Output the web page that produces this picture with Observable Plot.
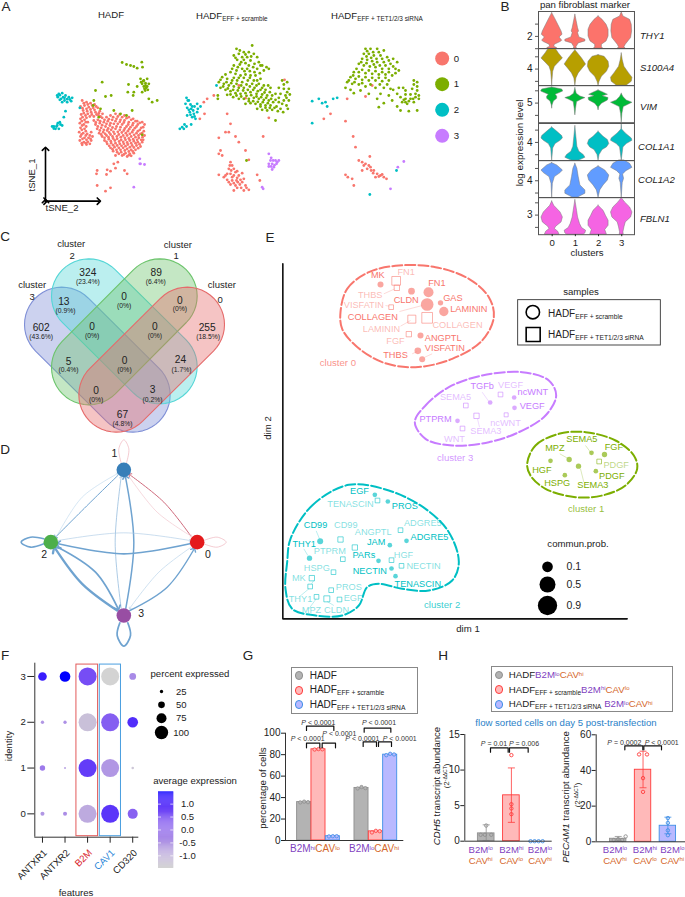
<!DOCTYPE html>
<html><head><meta charset="utf-8">
<script src="https://cdn.jsdelivr.net/npm/d3@7"></script>
<script src="https://cdn.jsdelivr.net/npm/@observablehq/plot@0.6"></script>
<style>html,body{margin:0;padding:0;background:#fff}#root{position:relative;width:685px;height:897px;overflow:hidden;font-family:"Liberation Sans",Arial,sans-serif;color:#222}#root>svg{position:absolute;overflow:visible}.t{position:absolute;white-space:nowrap;line-height:1}.s{font-size:.67em;position:relative;top:.3em}.u{font-size:.62em;position:relative;top:-.4em}</style>
</head><body><div id="root"></div>
<script>
// ---------- Panel A: tSNE
const hadf0=[245,300,258,305,270,308,282,312,240,318,252,315,265,320,278,322,292,322,248,330,260,332,272,335,285,335,298,332,242,342,255,345,268,348,280,348,294,345,306,340,240,355,252,358,238,368,250,372,262,365,240,382,252,385,236,395,248,398,260,400,272,395,240,408,252,412,264,412,276,408,238,420,250,425,262,424,272,420,245,433,258,432,280,360,292,358,305,352,318,350,330,345,345,340,358,342,372,345,385,350,398,355,410,362,425,365,432,372,285,372,298,368,310,365,322,362,335,358,348,355,360,358,372,360,385,365,398,368,412,372,428,380,290,385,302,382,315,378,328,375,340,370,352,370,365,372,378,378,390,380,403,383,418,388,430,392,296,398,308,395,320,390,332,388,345,385,358,388,370,390,382,392,395,395,408,398,420,400,432,405,305,408,318,405,330,402,342,400,355,402,368,405,380,405,392,408,405,410,415,412,428,418,312,420,325,416,338,414,350,415,362,418,375,418,388,420,400,422,412,425,425,425,320,430,332,428,345,428,358,430,370,430,382,432,395,435,408,435,420,438,330,442,342,440,355,442,368,442,380,445,392,448,405,448,338,452,350,455,362,455,375,458,388,460,400,458,345,465,365,465,380,468,392,466,340,490,352,485,320,508,345,503,290,510,288,520,330,512,318,522,372,510,380,520,290,555,330,562,315,572,250,308,262,312,275,315,287,318,246,323,258,325,270,327,282,328,295,338,250,338,262,340,274,342,288,342,300,348,246,350,258,352,244,362,256,365,245,375,257,378,244,388,256,392,243,402,256,405,268,405,246,415,258,418,270,415,244,428,256,428,268,430,286,366,299,362,312,358,325,356,338,350,352,348,365,350,378,353,392,358,405,362,418,367,292,378,305,374,318,370,330,368,345,362,358,364,370,366,383,372,396,374,408,378,422,382,298,390,310,388,323,384,336,381,348,378,360,380,373,384,386,386,398,389,412,392,425,398,302,402,314,400,326,396,339,394,352,394,364,396,376,398,388,400,401,403,414,405,426,410,312,412,324,410,336,408,349,408,361,410,373,412,385,414,398,416,410,418,422,418,318,424,331,422,343,420,356,423,368,424,380,426,392,428,405,428,417,431,326,436,338,434,350,435,363,436,375,437,388,440,400,441,413,443,336,446,348,448,360,448,373,450,385,453,397,453,355,460,370,462,385,464];
const hadf1=[365,186,378,192,390,195,400,198,410,203,424,185,426,200,420,235,430,240,440,235,425,250,435,255,445,250,432,265,442,268,425,275,437,262,384,252,382,275,400,275,410,258,398,285,445,295,470,300,455,305,305,245,285,270,315,288,332,285,280,300,278,315,300,325,295,350,340,330,360,340,378,345,395,330,425,403,428,242,435,248,422,245,440,258,430,258,434,270];
const hadf2=[175,280,185,278,195,285,205,290,215,292,172,290,182,295,192,300,200,305,212,302,185,305,170,285,195,332,190,350,178,365,185,375,170,375,160,378,165,385,155,378,175,385,238,322,178,284,188,290,200,296,208,297,178,298,192,292,168,378,160,384,172,368,180,372];
const hadf3=[418,475,418,490,432,492,400,560,420,490];
const scr1=[708,145,755,135,745,155,730,155,715,160,700,165,760,160,770,170,725,170,740,170,710,178,722,185,735,188,750,180,775,185,785,195,805,205,700,195,712,200,725,205,740,205,758,200,770,205,790,210,690,215,705,220,720,225,735,222,750,225,765,225,780,235,665,230,680,235,695,240,710,240,725,245,742,240,760,240,775,250,790,255,845,240,860,245,655,245,670,250,685,255,700,258,715,262,730,262,748,258,762,262,780,268,795,268,810,262,835,262,850,265,865,265,660,262,675,268,690,272,705,278,720,280,735,278,750,275,768,280,785,282,800,285,815,285,840,280,855,285,868,282,680,283,698,290,715,295,730,295,745,295,760,292,775,295,790,298,805,300,825,298,850,300,865,300,735,310,750,308,765,310,780,312,795,315,810,315,828,318,845,310,858,315,770,325,785,328,800,330,815,328,832,332,848,335,862,325,825,360,652,285,652,295,738,480,718,150,735,162,752,168,705,172,718,192,730,178,745,195,762,190,780,195,798,200,695,205,708,210,732,212,748,212,762,215,778,218,675,222,700,232,715,232,730,232,748,232,770,240,660,238,678,245,692,248,708,250,722,255,738,252,755,250,768,255,785,262,803,255,850,252,668,258,682,264,698,268,712,270,728,270,742,268,758,268,772,272,792,276,808,275,825,280,860,275,690,282,708,285,722,288,738,286,752,284,768,288,782,290,797,292,812,295,835,292,858,292,745,302,758,302,772,304,787,305,802,308,818,305,835,305,780,318,795,322,808,322,822,322,840,325];
const scr2=[558,292,565,300,555,310,570,312,560,322,572,325,582,318,590,310,600,318,568,335,580,340,590,335,575,350,585,355,560,345,552,372,545,380,538,385,550,385,558,378,572,372,648,255,562,300,575,318,565,328,578,330,570,343,582,348,592,325];
const scr0=[640,285,620,295,610,305,612,340,598,355,680,340,690,370,675,395,685,395,655,412,705,408,715,425,788,408,660,450,655,460,665,465,735,450,745,478,805,352,852,238,735,293,715,255,690,485,695,495,685,505,700,505,710,512,655,523,670,530,680,520,690,520,700,525,715,525,725,518,680,538,695,540,708,540,720,538,730,535,690,552,705,555,718,552,735,555,745,568,730,570,700,570,770,523,778,540,688,495,692,510,705,515,675,525,695,530,710,532,685,545,700,548,712,545,725,545,710,562,722,562,738,562];
const scr3=[805,460,812,472,825,480,835,480,805,490,815,490,828,490,805,498,820,500,815,507,785,560,788,565,810,480,818,480,830,485,812,498,822,494];
const sir1=[1095,145,1110,145,1130,145,1150,150,1090,160,1105,160,1120,165,1140,165,1160,170,1178,175,1085,175,1100,178,1115,182,1130,185,1150,185,1170,190,1190,185,1075,190,1090,195,1108,198,1125,200,1145,205,1165,205,1185,205,1060,215,1075,215,1095,218,1115,220,1135,222,1155,222,1175,225,1195,210,1050,230,1065,235,1085,238,1105,240,1125,240,1145,242,1165,240,1040,245,1055,250,1075,252,1095,258,1125,262,1150,262,1170,265,1195,262,1240,240,1250,245,1035,262,1050,268,1060,278,1080,270,1105,280,1140,280,1165,285,1190,280,1215,270,1235,265,1250,270,1130,295,1175,300,1200,290,1215,295,1230,295,1245,290,1255,285,1205,305,1220,310,1240,305,1150,308,1190,318,1135,320,1225,332,1250,330,1200,330,1100,152,1118,155,1135,155,1098,168,1112,172,1128,175,1145,175,1165,180,1082,185,1098,188,1120,192,1138,195,1155,195,1178,198,1068,205,1085,208,1105,210,1125,212,1145,215,1165,215,1185,218,1058,225,1075,228,1095,230,1115,232,1135,232,1155,232,1045,240,1062,245,1085,248,1110,252,1138,252,1160,252,1240,252,1250,258,1215,282,1230,282,1245,280,1255,295,1210,298,1225,302,1238,295,1215,305,1178,268,1208,262];
const sir2=[935,302,955,295,965,308,975,305,980,318,998,295,1010,292,935,368,1108,582,1188,510];
const sir0=[1040,295,1095,288,1115,255,990,340,970,355,1035,362,1058,408,1065,440,1075,480,1085,485,1095,490,1105,495,1100,505,1112,510,1120,510,1130,520,1125,530,1140,525,1150,530,1158,535,1108,468,1085,510,1035,523,1042,530,1055,535,1060,555,1090,495,1110,500,1118,518,1135,528,1145,522];
const sir3=[1210,483,1192,500,1170,565];
const clusterColors=["#F8766D","#7CAE00","#00BFC4","#C77CFF"];

// ---------- Panel B: violins, [row position, half width] pairs
const genes=["THY1","S100A4","VIM","COL1A1","COL1A2","FBLN1"];
const geneTick=["2","4","5","4","4","3"];
const geneTickAt=[75,62,53,57,61,53];
const geneFill=["#FC736B","#B79F00","#00BA38","#00BFC4","#619CFF","#F564E3"];
const vThy1=[[5,0,20,8,40,18,60,28,70,31,78,22,88,30,92,25,100,8,106,6,110,14,112,16],[10,0,30,4,50,8,60,11,65,8,78,12,85,30,90,30,96,10,108,3,112,5],[15,0,25,12,40,24,55,30,75,30,90,24,100,10,108,10,112,14],[2,0,15,5,25,25,40,30,60,31,80,28,100,12,108,8,112,12]];
const vS100=[[3,12,15,20,30,32,42,20,55,8,70,3,95,1,112,0],[5,0,15,8,30,20,48,32,60,22,75,10,90,3,112,0],[20,0,25,18,40,30,55,32,70,25,85,10,100,3,112,0],[15,0,35,3,55,8,75,22,88,32,100,30,108,20,112,15]];
const vVim=[[6,0,12,30,18,33,28,10,33,15,40,15,48,5,60,1,70,0],[8,0,25,4,33,15,38,30,42,20,50,5,70,2,90,0],[15,0,20,12,28,28,32,12,38,30,45,28,55,10,65,2,75,0],[25,0,35,5,45,15,52,32,58,20,65,6,85,2,112,0]];
const vCol1a1=[[12,0,22,12,38,30,45,32,52,25,62,10,75,3,112,0],[8,0,40,3,70,6,85,12,95,25,103,30,108,20,112,10],[25,0,40,15,50,28,62,32,72,25,80,12,95,3,112,0],[0,0,18,1,30,12,45,30,52,32,62,15,72,5,112,0]];
const vCol1a2=[[8,0,15,15,30,32,38,25,50,8,70,2,112,0],[10,0,25,6,50,10,75,15,90,30,100,30,108,15,112,8],[18,0,30,20,45,32,60,28,75,15,90,5,112,0],[0,8,10,25,22,32,32,14,42,4,55,7,68,3,112,0]];
const vFbln=[[12,0,25,6,45,25,60,32,75,28,88,12,95,8,103,18,112,22],[8,0,40,5,60,8,80,14,92,20,100,32,108,30,112,25],[25,0,40,15,55,22,70,30,85,30,98,20,112,25],[2,0,15,10,30,25,45,32,60,28,75,12,90,8,105,5,112,6]];
const violins=[vThy1,vS100,vVim,vCol1a1,vCol1a2,vFbln];

// ---------- Panel C: Venn
const vennCapsules=[[184,297,397,508,"#7F8FD6"],[265,212,478,423,"#55D6D6"],[478,212,265,426,"#6CC46C"],[560,297,347,508,"#E56B6B"]];
const vennCounts=[["324",262,143,"(23.4%)",262,170],["89",467,143,"(6.4%)",466,170],["602",122,308,"(43.6%)",122,335],["13",190,228,"(0.9%)",195,255],["0",371,213,"(0%)",371,242],["0",538,226,"(0%)",538,250],["255",620,306,"(18.5%)",623,335],["0",275,303,"(0%)",275,330],["0",463,304,"(0%)",463,330],["5",204,408,"(0.4%)",204,434],["0",372,405,"(0%)",372,434],["24",540,403,"(1.7%)",543,433],["0",287,495,"(0%)",287,522],["3",456,494,"(0.2%)",456,522],["67",366,567,"(4.8%)",366,594]];
const vennTitles=[["cluster",95,178],["3",95,215],["cluster",212,55],["2",215,90],["cluster",532,58],["1",527,90],["cluster",664,178],["0",659,223]];

// ---------- Panel D: network
const netNodes=[["1",370,733,"#377EB8",342,685],["2",151,950,"#4DAF4A",131,988],["0",590,950,"#E41A1C",622,988],["3",370,1170,"#984EA3",422,1165]];
const netEdges=[[170,930,245,815,350,745,.6,"#bcd6ec"],[352,750,265,835,165,935,1,"#6fa3d0"],[570,930,490,830,388,748,1,"#cf6a7c"],[385,752,470,860,572,932,.6,"#f0c0c8"],[362,1148,344,950,362,755,.7,"#8ab5da"],[376,1148,400,950,375,755,1.5,"#6fa3d0"],[173,945,370,922,568,945,.6,"#a8c8e4"],[568,955,370,985,173,955,1.6,"#6fa3d0"],[172,965,285,1040,352,1148,1.7,"#6fa3d0"],[350,1155,245,1075,165,970,2.3,"#6fa3d0"],[572,965,475,1040,388,1148,.6,"#b0cfe8"],[388,1155,500,1085,580,972,1.4,"#6fa3d0"]];
const netLoops=[[[130,940,90,935,62,950,90,965,130,955],1.6,"#6fa3d0"],[[610,945,650,935,677,950,650,965,610,955],.6,"#eda9b3"],[[362,712,355,670,370,643,385,670,378,712],.6,"#eda9b3"],[[358,1192,350,1230,370,1262,390,1230,382,1192],1.7,"#6fa3d0"]];

// ---------- Panel E
const eOutline0=[195,170,215,100,280,50,370,30,480,35,580,70,640,125,655,185,620,255,530,310,420,335,320,320,240,270,200,220];
const eOutline1=[755,625,780,570,850,535,930,530,1020,555,1075,600,1085,640,1050,690,980,720,900,725,810,700,765,660];
const eOutline2=[45,850,110,750,220,688,340,705,450,760,520,830,550,920,530,975,460,1005,380,1000,310,985,275,995,250,1050,200,1080,120,1080,50,1060,30,1000,35,920];
const eOutline3=[418,500,450,450,520,395,620,360,740,350,820,375,842,420,810,480,730,530,640,560,530,570,450,550];
const eCircles=[[315,87,9,408,107,10,459,110,15,455,147,19,495,142,8,505,168,14,435,240,9,427,286,10,440,311,9],[948,592,7,987,597,8,825,616,7,881,612,8,909,632,8,961,647,7,868,659,7],[298,718,7,337,738,7,134,857,9,102,908,8,343,869,7,393,856,7,309,916,7,348,939,7,360,962,7],[644,441,7,716,426,7,717,457,7,546,496,7]];
const eSquares=[[362,76,13,364,97,8,347,155,7,409,191,12,455,187,16,400,236,8],[971,618,7],[306,735,7,195,852,8,375,824,7,238,876,8,202,911,7,348,914,7,378,931,7,174,950,7,109,968,8,104,993,7,167,1004,7,123,1024,7,154,1030,9,192,1032,7],[675,417,7,571,450,7,603,481,8,692,478,6,561,519,7]];
const eDark=[[["MK",307,60],["FN1",484,83],["CLDN",392,134],["GAS",532,128],["LAMININ",580,162],["COLLAGEN",292,185],["ANGPTL",503,247],["VISFATIN",508,278],["THBS",360,300]],[["SEMA5",919,552],["MPZ",838,579],["FGF",1015,575],["HGF",799,643],["PDGF",1009,662],["HSPG",845,683],["SEMA3",952,690]],[["EGF",252,707],["PROS",388,752],["CD99",120,809],["THY1",86,866],["JAM",302,861],["ADGRE5",462,845],["PARs",265,900],["NECTIN",283,946],["TENASCIN",427,986]],[["TGFb",620,392],["ncWNT",772,410],["VEGF",770,451],["PTPRM",480,490]]];
const eLight=[[["FN1",392,50],["THBS",284,118],["VISFATIN",265,150],["LAMININ",318,220],["COLLAGEN",546,208],["FGF",360,258]],[["PDGF",1022,629]],[["TENASCIN",225,745],["CD99",211,809],["ADGRE5",442,803],["ANGPTL",293,830],["PTPRM",163,887],["HGF",384,898],["NECTIN",444,932],["HSPG",124,937],["MK",70,968],["PROS",220,996],["EGF",233,1029],["THY1",75,1031],["MPZ",108,1065],["CLDN",183,1065]],[["VEGF",705,388],["SEMA5",540,425],["ncWNT",690,502],["SEMA3",631,528],["WNT",537,550]]];
const eNames=[["cluster 0",187,323],["cluster 1",932,759],["cluster 2",500,1049],["cluster 3",539,606]];
const eLinks=[[[325,115,358,100],[330,150,340,152],[372,168,440,150],[375,212,405,195],[410,295,425,288],[448,305,470,295]],[[930,570,945,590],[853,595,876,608],[915,640,925,680]],[[122,826,132,850],[85,880,97,900],[70,1025,100,1000],[100,1060,122,1030],[175,1050,155,1038],[115,975,108,985]],[[620,410,640,438],[612,515,606,490]]];
const commProb=[["0.1",934,16],["0.5",987,24],["0.9",1050,29]];

// ---------- Panel F
const features=["ANTXR1","ANTXR2","B2M","CAV1","CD320"];
const featureColor=["#222","#222","#d8232a","#2a86d8","#222"];
const pct3=[23,35,100,100,14],pct2=[3.4,3.4,100,100,35],pct1=[9,1.2,100,100,2],pct0=[5,5,100,100,31];
const avg3=[1.25,1.45,.6,-1.49,-.35],avg2=[-.55,-.45,-1.2,.35,1.05],avg1=[-.1,-.7,.85,-.55,-1.3],avg0=[-.55,-.4,-.85,.95,.3];
const pctLegend=[25,50,75,100];
const avgTicks=[1,.5,0,-.5,-1];

// ---------- Panel G
const gGroupA=[35.8,85,4],gGroupB=[49,8.5,80];
const gPointsA=[[35.5,36.2,35.7],[84.8,85.2,85],[3.8,4,4]];
const gPointsB=[[48.5,49.8,48.8],[7.5,9,8.7],[79.5,80.8,80.2]];
const gTicks=[0,20,40,60,80,100];
// ---------- Panel H
const cdh5Mean=[1.1,6.45,0],cdh5Hi=[2.3,10.3,0],cdh5Lo=[0.1,2.65,0];
const cdh5Pts=[[.9,.9,2.2,.9],[12.1,5.2,4.6,3.8],[0,0,0,0]];
const pecMean=[1.7,40.4,9],pecHi=[3,50.8,13.8],pecLo=[.6,30.3,4.5];
const pecPts=[[1,1.5,1,3],[49,49,35.7,28],[13.3,10.6,6.4,3.7]];
const barFill=["#b3b3b3","#ffb9b9","#b9b9ff"],barStroke=["#8f8f8f","#ff3b3b","#3f8fe6"];

// ---------- helpers
const root=document.getElementById("root");
const font='"Liberation Sans",Arial,sans-serif';
const pairs=a=>{const r=[];for(let i=0;i<a.length;i+=2)r.push([a[i],a[i+1]]);return r;};
const triples=a=>{const r=[];for(let i=0;i<a.length;i+=3)r.push([a[i],a[i+1],a[i+2]]);return r;};
function put(n,l,t){n.style.left=l+"px";n.style.top=t+"px";n.style.position="absolute";root.appendChild(n);}
function T(x,y,html,o={}){const d=document.createElement("div");d.className="t";d.innerHTML=html;d.style.fontSize=(o.size||9.6)+"px";if(o.color)d.style.color=o.color;if(o.italic)d.style.fontStyle="italic";const ax=o.anchor==="start"?"0":"-50%";d.style.transform=`translate(${ax},-50%)`+(o.rotate?` rotate(${o.rotate}deg)`:"");put(d,x,y);}
const sub=s=>`<span class="s">${s}</span>`,sup=s=>`<span class="u">${s}</span>`;
const pu=s=>`<span style="color:#7f3fbf">${s}</span>`,or=s=>`<span style="color:#d5682c">${s}</span>`;
const b2m=h=>pu("B2M"+sup(h)),cav=h=>or("CAV"+sup(h));
const baseStyle={fontFamily:font,background:"transparent",overflow:"visible"};
function zp(ox,oy,w,h,marks){const p=Plot.plot({width:w,height:h,margin:0,x:{domain:[0,w*3],axis:null},y:{domain:[h*3,0],axis:null},r:{type:"identity"},style:baseStyle,marks});put(p,ox,oy);}
const txt=(rows,o)=>Plot.text(rows,{x:d=>d[1],y:d=>d[2],text:d=>d[0],lineAnchor:"middle",...o});
const dots=(a,fill)=>Plot.dot(pairs(a),{x:d=>d[0],y:d=>d[1],r:1.4,fill,stroke:"none"});

// Panel A
zp(0,0,490,225,[
 ...[[hadf0,0],[hadf1,1],[hadf2,2],[hadf3,3],[scr0,0],[scr1,1],[scr2,2],[scr3,3],[sir0,0],[sir1,1],[sir2,2],[sir3,3]].map(([a,c])=>dots(a,clusterColors[c])),
 Plot.dot([0,1,2,3],{x:1325,y:[174,251,328,406],r:7,fill:d=>clusterColors[d],stroke:"none"}),
 Plot.text([0,1,2,3],{x:1368,y:[174,251,328,406],text:d=>String(d),fontSize:9.6,fill:"#222"}),
 Plot.line([[135,602],[135,445]],{x:d=>d[0],y:d=>d[1],stroke:"#000",strokeWidth:1.6,marker:"arrow"}),
 Plot.line([[135,602],[295,602]],{x:d=>d[0],y:d=>d[1],stroke:"#000",strokeWidth:1.6,marker:"arrow"})
]);
[["A",6,7],["B",505,7],["C",5,237],["D",5,450],["E",270,238],["F",5,656],["G",248,656],["H",443,656]].forEach(([s,x,y])=>T(x,y,s,{size:13.5}));
T(111,15,"HADF");
T(196,16,"HADF"+sub("EFF + scramble"),{anchor:"start"});
T(331,16,"HADF"+sub("EFF + TET1/2/3 siRNA"),{anchor:"start"});
T(32,175,"tSNE_1",{rotate:-90});T(62,208,"tSNE_2");

// Panel B
violins.forEach((row,i)=>{
 const rows=row.flatMap((v,c)=>pairs(v).map(([y,w])=>({c,y,x1:c-w/69.3,x2:c+w/69.3})));
 const last=i===5;
 const yTicks=[geneTickAt[i]-37,geneTickAt[i],geneTickAt[i]+37].filter(v=>v>=0&&v<=112);
 const p=Plot.plot({width:132,height:37.2+(last?22:0),marginLeft:36,marginRight:0,marginTop:0,marginBottom:last?22:0,
  x:{domain:[-.59,3.55],axis:null},y:{domain:[112,0],axis:null},style:baseStyle,
  marks:[
   Plot.areaX(rows,{x1:"x1",x2:"x2",y:"y",z:"c",fill:geneFill[i],stroke:"#777",strokeWidth:.5}),
   Plot.frame({stroke:"#555"}),
   Plot.axisY({ticks:yTicks,tickFormat:v=>v===geneTickAt[i]?geneTick[i]:"",tickSize:3,tickPadding:3,label:null,fontSize:10,stroke:"#555"}),
   ...(last?[Plot.axisX({ticks:[0,1,2,3],tickFormat:"d",tickSize:2,tickPadding:2,label:null,fontSize:9.6})]:[])
  ]});
 put(p,502,11+37.2*i);
 T(i==3||i==4?638:640,[36,68,107,147,180,219][i],genes[i],{italic:true,anchor:"start"});
});
T(585,5,"pan fibroblast marker");T(520,143,"log expression level",{size:9.9,rotate:-90});T(587,253,"clusters");

// Panels C and D
const capsule=([x1,y1,x2,y2],r)=>{const a=Math.atan2(y2-y1,x2-x1),out=[];for(let i=0;i<=24;i++){const t=a+Math.PI/2+Math.PI*i/24;out.push([x1+r*Math.cos(t),y1+r*Math.sin(t)]);}for(let i=0;i<=24;i++){const t=a-Math.PI/2+Math.PI*i/24;out.push([x2+r*Math.cos(t),y2+r*Math.sin(t)]);}out.push(out[0]);return out;};
zp(0,225,270,425,[
 ...vennCapsules.map(c=>Plot.line(capsule(c,112),{x:d=>d[0],y:d=>d[1],fill:c[4],fillOpacity:.4,stroke:c[4],strokeWidth:1.1})),
 txt(vennTitles,{fontSize:9.5,fill:"#222"}),
 txt(vennCounts,{fontSize:10.2,fill:"#222"}),
 Plot.text(vennCounts,{x:d=>d[4],y:d=>d[5],text:d=>d[3],fontSize:6.8,fill:"#222"}),
 ...netEdges.map(e=>Plot.line([[e[0],e[1]],[e[2],e[3]],[e[4],e[5]]],{x:d=>d[0],y:d=>d[1],curve:"catmull-rom",stroke:e[7],strokeWidth:e[6],markerEnd:"arrow"})),
 ...netLoops.map(l=>Plot.line(pairs(l[0]),{x:d=>d[0],y:d=>d[1],curve:"catmull-rom",stroke:l[2],strokeWidth:l[1]})),
 Plot.dot(netNodes,{x:d=>d[1],y:d=>d[2],r:7.3,fill:d=>d[3],stroke:"none"}),
 Plot.text(netNodes,{x:d=>d[4],y:d=>d[5],text:d=>d[0],fontSize:10.5,fill:"#222"})
]);

// Panel E
const eOutlines=[eOutline0,eOutline1,eOutline2,eOutline3];
zp(275,255,410,380,[
 Plot.line([[22,25],[22,1090],[1055,1090]],{x:d=>d[0],y:d=>d[1],stroke:"#111",strokeWidth:1.6}),
 ...eOutlines.map((o,c)=>Plot.line(pairs(o),{x:d=>d[0],y:d=>d[1],curve:"catmull-rom-closed",stroke:clusterColors[c],strokeWidth:2,strokeDasharray:"10 3"})),
 ...eLinks.map((l,c)=>Plot.link(l,{x1:d=>d[0],y1:d=>d[1],x2:d=>d[2],y2:d=>d[3],stroke:clusterColors[c],strokeOpacity:.45,strokeWidth:.6})),
 ...eCircles.map((a,c)=>Plot.dot(triples(a),{x:d=>d[0],y:d=>d[1],r:d=>d[2]/3,fill:clusterColors[c],fillOpacity:.65,stroke:"none"})),
 ...eSquares.map((a,c)=>Plot.dot(triples(a),{x:d=>d[0],y:d=>d[1],r:d=>d[2]*2/3/1.77,symbol:"square",fill:"none",stroke:clusterColors[c],strokeOpacity:.7,strokeWidth:.8})),
 ...eDark.map((a,c)=>txt(a,{fontSize:9.2,fill:clusterColors[c]})),
 ...eLight.map((a,c)=>txt(a,{fontSize:9.2,fill:clusterColors[c],fillOpacity:.5})),
 ...eNames.map((n,c)=>txt([n],{fontSize:9.6,fill:clusterColors[c],fillOpacity:.8})),
 Plot.rect([[728,134,1156,270]],{x1:d=>d[0],y1:d=>d[1],x2:d=>d[2],y2:d=>d[3],fill:"none",stroke:"#333",strokeWidth:.9}),
 Plot.dot([[772,170]],{x:d=>d[0],y:d=>d[1],r:6.7,fill:"none",stroke:"#000",strokeWidth:1.6}),
 Plot.dot([[773,237]],{x:d=>d[0],y:d=>d[1],r:7.9,symbol:"square",fill:"none",stroke:"#000",strokeWidth:1.6}),
 Plot.dot(commProb,{x:816,y:d=>d[1],r:d=>d[2]/3,fill:"#000",stroke:"none"}),
 Plot.text(commProb,{x:895,y:d=>d[1],text:d=>d[0],fontSize:10.5,fill:"#222"})
]);
T(268,428,"dim 2",{rotate:-90});T(468,629,"dim 1");
T(581,292,"samples");T(578,544,"commun.prob.");
T(548,314,"HADF"+sub("EFF + scramble"),{size:10,anchor:"start"});
T(548,335,"HADF"+sub("EFF + TET1/2/3 siRNA"),{size:10,anchor:"start"});

// Panel F
const fRows=[[3,pct3,avg3],[2,pct2,avg2],[1,pct1,avg1],[0,pct0,avg0]].flatMap(([id,p,a])=>p.map((v,i)=>({id,i,pct:v,avg:a[i]})));
const colorScale={type:"linear",domain:[-1.49,1.45],range:["lightgrey","blue"],interpolate:"lab"};
put(Plot.plot({width:240,height:257,marginLeft:34.3,marginBottom:60.3,marginTop:22.7,marginRight:101.7,
 x:{domain:[-.34,4.27],axis:null},y:{domain:[-.51,3.29],axis:null},r:{domain:[0,100],range:[0,9]},color:colorScale,style:baseStyle,
 marks:[
  Plot.axisY({ticks:[0,1,2,3],tickFormat:"d",tickSize:7,tickPadding:2,label:null,fontSize:9.6}),
  Plot.axisX({ticks:[0,1,2,3,4],tickFormat:()=>"",tickSize:6,label:null}),
  Plot.ruleX([-.34],{stroke:"#333",strokeWidth:1}),Plot.ruleY([-.51],{stroke:"#333",strokeWidth:1}),
  Plot.dot(fRows,{x:"i",y:"id",r:"pct",fill:"avg",stroke:"none"}),
  Plot.rect([[1.505,2.465,"#e25a5a"],[2.54,3.48,"#4a9fe0"]],{x1:d=>d[0],x2:d=>d[1],y1:-.488,y2:3.26,fill:"none",stroke:d=>d[2],strokeWidth:1}),
  Plot.text(features,{x:(d,i)=>i,y:-.51,dy:14,dx:3,rotate:-45,textAnchor:"end",fill:(d,i)=>featureColor[i],fontSize:9.6,text:d=>d})
 ]}),0,640);
T(9,746,"identity",{rotate:-90});T(76,893,"features");
T(190,674,"percent expressed");T(195,781,"average expression");
zp(0,640,240,257,[
 Plot.dot(pctLegend,{x:483,y:[153,193,233,276],r:d=>d/15,fill:"#000",stroke:"none"}),
 Plot.text(pctLegend,{x:542,y:[153,193,233,276],text:d=>String(d),fontSize:9.5,fill:"#222"})
]);
put(Plot.plot({width:60,height:76,margin:0,x:{domain:[0,60],axis:null},y:{domain:[-1.49,1.45],axis:null},color:colorScale,style:baseStyle,marks:[
 Plot.rect(d3.range(-1.49,1.45,.04),{x1:0,x2:15.3,y1:d=>d,y2:d=>d+.045,fill:d=>d}),
 Plot.ruleY(avgTicks,{x1:0,x2:3,stroke:"#fff",strokeWidth:.7}),Plot.ruleY(avgTicks,{x1:12.3,x2:15.3,stroke:"#fff",strokeWidth:.7}),
 Plot.text(avgTicks,{x:29,y:d=>d,text:d=>d.toFixed(1),fontSize:9.5,fill:"#222"})
]}),157.7,791.7);

// Panel G
const gBars=[...gGroupA.map((v,s)=>({i:s,s,v,pts:gPointsA[s]})),...gGroupB.map((v,s)=>({i:s+4,s,v,pts:gPointsB[s]}))];
put(Plot.plot({width:210,height:257,marginLeft:50,marginRight:41.7,marginTop:92.7,marginBottom:57,
 x:{domain:[-1.3,6.95],axis:null},y:{domain:[0,100],axis:null},style:baseStyle,marks:[
  Plot.rect(gBars,{x1:d=>d.i-.49,x2:d=>d.i+.49,y1:0,y2:"v",fill:d=>barFill[d.s],stroke:d=>barStroke[d.s],strokeWidth:.9}),
  Plot.dot(gBars.flatMap(b=>b.pts.map((p,k)=>({x:b.i+(k-1)*.27,y:p,s:b.s}))),{x:"x",y:"y",r:1.7,fill:d=>barFill[d.s],stroke:d=>barStroke[d.s],strokeWidth:.8}),
  Plot.axisY({ticks:gTicks,tickSize:4,tickPadding:1,label:null,fontSize:10}),
  Plot.ruleX([-1.3],{stroke:"#333"}),Plot.ruleY([0],{stroke:"#333"})
 ]}),235,640);
const bracket=([x1,yb,x2,yt])=>Plot.line([[x1,yb],[x1,yt],[x2,yt],[x2,yb]],{x:d=>d[0],y:d=>d[1],stroke:"#111",strokeWidth:1.2});
const gBrackets=[[213,322,253,308],[260,322,300,308],[213,270,295,257],[383,318,423,304],[429,318,468,304],[386,275,466,263]];
zp(235,640,210,257,gBrackets.map(bracket));
const Pt=(ox,zx,zy,s)=>T(ox+zx/3,640+zy/3,`<i>P</i> ${s}`,{size:7,color:"#333"});
[[250,245],[218,294],[313,279],[432,247],[382,293],[494,294]].forEach(([x,y])=>Pt(235,x,y,"&lt; 0.0001"));
T(263,788,"percentage of cells",{size:9.7,rotate:-90});
T(315,849,b2m("hi")+cav("lo"),{size:10});T(374,849,b2m("lo")+cav("hi"),{size:10});
function box(l,t,w,h){const d=document.createElement("div");d.style.cssText=`width:${w}px;height:${h}px;border:1px solid #888;box-sizing:border-box;background:#fff`;put(d,l,t);}
function swatch(x,y,s){const d=document.createElement("div");d.style.cssText=`width:8.6px;height:8.6px;border-radius:50%;box-sizing:border-box;background:${barFill[s]};border:1px solid ${barStroke[s]}`;put(d,x-4.3,y-4.3);}
box(291,666.7,127,47);[675.7,690.3,704.7].forEach((y,s)=>swatch(299,y,s));
T(309.7,675.7,"HADF",{size:10,anchor:"start"});T(309.7,690.3,"HADF"+sub("EFF + scramble"),{size:10,anchor:"start"});T(309.7,704.7,"HADF"+sub("EFF + TET1/2/3 siRNA"),{size:10,anchor:"start"});

// Panel H
function hChart(mean,hi,lo,pts,yMax,ticks,o,jit){
 const rows=mean.map((v,i)=>({i,v,hi:hi[i],lo:lo[i]}));
 const pr=pts.flatMap((a,i)=>a.map((v,k)=>({x:i+jit[i][k],y:v,s:i})));
 put(Plot.plot({width:255,height:257,...o,y:{domain:[0,yMax],axis:null},style:baseStyle,marks:[
  Plot.rect(rows.filter(d=>d.v>0),{x1:d=>d.i-.33,x2:d=>d.i+.33,y1:0,y2:"v",fill:d=>barFill[d.i],stroke:d=>barStroke[d.i],strokeWidth:.9}),
  Plot.link(rows.filter(d=>d.v>0),{x1:"i",x2:"i",y1:"lo",y2:"hi",stroke:d=>barStroke[d.i],strokeWidth:.8}),
  Plot.link(rows.filter(d=>d.v>0).flatMap(d=>[[d.i,d.hi,d.i],[d.i,d.lo,d.i]]),{x1:d=>d[0]-.14,x2:d=>d[0]+.14,y1:d=>d[1],y2:d=>d[1],stroke:d=>barStroke[d[2]],strokeWidth:.8}),
  Plot.dot(pr,{x:"x",y:"y",r:1.7,fill:"none",stroke:d=>barStroke[d.s],strokeWidth:.9}),
  Plot.axisY({ticks,tickSize:4,tickPadding:1,label:null,fontSize:10}),
  Plot.ruleY([0],{stroke:"#333"}),
  Plot.ruleX([o.x.domain[0]],{stroke:"#333"})
 ]}),430,640);
}
const jitter=[[-.22,-.05,0,.2],[0,0,0,0],[-.24,-.08,.08,.24]];
hChart(cdh5Mean,cdh5Hi,cdh5Lo,cdh5Pts,15,[0,5,10,15],{marginLeft:34.3,marginRight:133.3,marginTop:94,marginBottom:56.3,x:{domain:[-.85,2.62],axis:null}},jitter);
hChart(pecMean,pecHi,pecLo,pecPts,60,[0,20,40,60],{marginLeft:165.7,marginRight:0,marginTop:94.3,marginBottom:55.7,x:{domain:[-.886,2.71],axis:null}},[[-.18,0,.16,.3],[-.16,.16,0,0],[0,0,0,0]]);
zp(430,640,255,257,[[180,335,233,322],[237,335,293,322],[583,328,637,316],[640,328,693,316]].map(bracket));
Pt(430,192,309,"= 0.01");Pt(430,282,309,"= 0.006");Pt(430,583,305,"= 0.0002");Pt(430,695,305,"&lt; 0.0001");
box(490.7,666,182,46);[675,689.7,704.3].forEach((y,s)=>swatch(499,y,s));
const hx=508.7;
T(hx,675,"HADF"+b2m("lo")+cav("hi"),{size:9.7,anchor:"start"});
T(hx,689.7,"HADF"+sub("EFF + scramble")+b2m("hi")+cav("lo"),{size:9.7,anchor:"start"});
T(hx,704.3,"HADF"+sub("EFF + TET1/2/3 siRNA")+" "+b2m("lo")+cav("hi"),{size:9.7,anchor:"start"});
T(566,723,"flow sorted cells on day 5 post-transfection",{size:9.6,color:"#2a7fc8"});
T(437,786,'<i>CDH5</i> transcript abundance',{rotate:-90});T(447,776,"(2"+sup("-ΔΔCT")+")",{size:8,rotate:-90});
T(566,797,'<i>PECAM1</i> transcript abundance',{rotate:-90});T(578,795,"(2"+sup("-ΔΔCT")+")",{size:8,rotate:-90});
[[152,"lo","hi"],[244,"hi","lo"],[330,"lo","hi"],[555,"lo","hi"],[645,"hi","lo"],[727,"lo","hi"]].forEach(([x,a,b])=>{T(430+x/3,640+629/3,b2m(a),{size:9.6});T(430+x/3,640+662/3,cav(b),{size:9.6});});
</script></body></html>
